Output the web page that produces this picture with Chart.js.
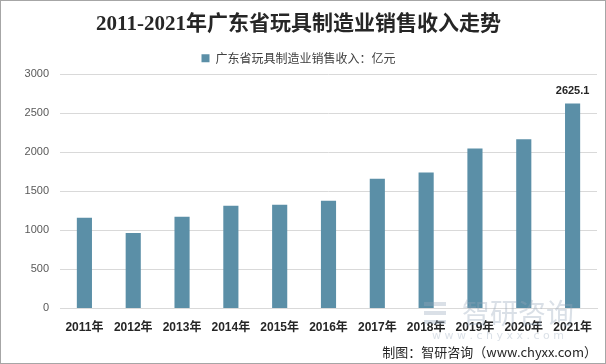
<!DOCTYPE html>
<html>
<head>
<meta charset="utf-8">
<script src="https://cdn.jsdelivr.net/npm/chart.js@4/dist/chart.umd.min.js"></script>
<style>
html,body{margin:0;padding:0;background:#fff;}
#wrap{position:relative;width:606px;height:364px;}
</style>
</head>
<body>
<div id="wrap"><canvas id="c" width="606" height="364"></canvas></div>
<script>
const categories = ["2011年","2012年","2013年","2014年","2015年","2016年","2017年","2018年","2019年","2020年","2021年"];
const revenue = [1160, 966, 1173, 1314, 1327, 1379, 1662, 1740, 2049, 2167, 2625.1];
const yTicks = [0, 500, 1000, 1500, 2000, 2500, 3000];
const seriesName = "广东省玩具制造业销售收入：亿元";
const titleText = "2011-2021年广东省玩具制造业销售收入走势";
const sourceText = "制图：智研咨询（www.chyxx.com）";
const labelledIndex = [10];

const barColor = "#5b8fa7";

const framePlugin = {
  id: 'frame',
  beforeDraw(chart) {
    const ctx = chart.ctx;
    ctx.save();
    ctx.fillStyle = '#fff';
    ctx.fillRect(0, 0, chart.width, chart.height);
    ctx.restore();
  },
  afterDraw(chart) {
    const ctx = chart.ctx;
    ctx.save();
    // watermark
    ctx.fillStyle = 'rgba(150,165,185,0.35)';
    ctx.font = '28px "Noto Sans CJK SC"';
    ctx.textAlign = 'left';
    ctx.textBaseline = 'middle';
    ctx.fillText('智研咨询', 462, 313);
    ctx.font = '11px "DejaVu Sans"';
    ctx.fillText('w w w . c h y x x . c o m', 432, 336);
    ctx.fillRect(424, 302, 22, 4);
    ctx.fillRect(424, 311, 22, 4);
    ctx.fillRect(424, 320, 22, 4);
    // border
    ctx.strokeStyle = '#a6a6a6';
    ctx.lineWidth = 1;
    ctx.strokeRect(0.5, 0.5, chart.width - 1, chart.height - 1);
    // data label
    const meta = chart.getDatasetMeta(0);
    ctx.fillStyle = '#262626';
    ctx.font = 'bold 11px "Liberation Sans"';
    ctx.textAlign = 'center';
    ctx.textBaseline = 'bottom';
    labelledIndex.forEach(i => {
      const el = meta.data[i];
      ctx.fillText(String(revenue[i]), el.x, el.y - 7);
    });
    ctx.restore();
  }
};

new Chart(document.getElementById('c'), {
  type: 'bar',
  data: {
    labels: categories,
    datasets: [{
      label: seriesName,
      data: revenue,
      backgroundColor: barColor,
      borderWidth: 0,
      categoryPercentage: 0.62,
      barPercentage: 0.5
    }]
  },
  options: {
    responsive: false,
    animation: false,
    devicePixelRatio: 1,
    layout: { padding: { left: 0, right: 9, top: 0, bottom: 0 } },
    plugins: {
      title: {
        display: true,
        text: titleText,
        color: '#262626',
        font: { family: '"Liberation Serif", "Noto Sans CJK SC"', size: 21, weight: 'bold' },
        padding: { top: 12, bottom: 7 }
      },
      legend: {
        display: true,
        labels: {
          color: '#404040',
          font: { family: '"Noto Sans CJK SC"', size: 12 },
          boxWidth: 8, boxHeight: 8, padding: 8
        }
      },
      subtitle: {
        display: true,
        position: 'bottom',
        align: 'end',
        text: sourceText,
        color: '#262626',
        font: { family: '"Noto Sans CJK SC"', size: 13 },
        padding: { top: 4, bottom: 4 }
      },
      tooltip: { enabled: false }
    },
    scales: {
      x: {
        grid: { display: false },
        border: { display: true, color: '#d9d9d9' },
        ticks: {
          color: '#262626',
          font: { family: '"Liberation Sans", "Noto Sans CJK SC"', size: 12, weight: 'bold' },
          maxRotation: 0, autoSkip: false, padding: 4
        },
        afterFit(s) { s.height = 32; }
      },
      y: {
        min: 0, max: 3000,
        afterBuildTicks(s) { s.ticks = yTicks.map(v => ({ value: v })); },
        grid: { color: '#d9d9d9', drawTicks: false },
        border: { display: false },
        ticks: {
          color: '#595959',
          font: { family: '"Liberation Sans"', size: 11 },
          padding: 11,
          callback: (v) => String(v)
        },
        afterFit(s) { s.width = 60; }
      }
    }
  },
  plugins: [framePlugin]
});
</script>
</body>
</html>
